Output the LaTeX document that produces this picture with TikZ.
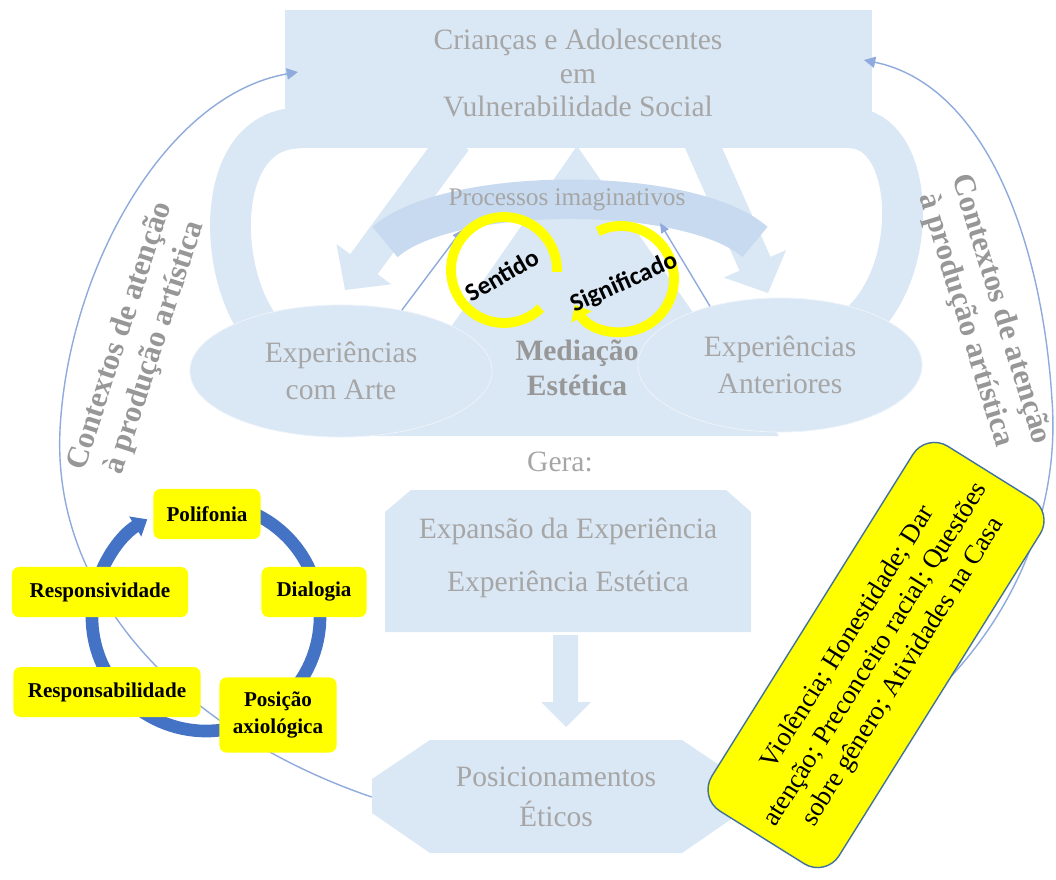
\documentclass[tikz,border=0pt]{standalone}
\usepackage{fontspec}
\setmainfont{Liberation Serif}
\newfontfamily\calibfont{Carlito}
\usetikzlibrary{arrows.meta,shapes.geometric}

\definecolor{boxblue}{HTML}{DAE7F4}
\definecolor{procblue}{HTML}{C8DAEF}
\definecolor{txtgray}{HTML}{A6A6A6}
\definecolor{medgray}{HTML}{979797}
\definecolor{arcblue}{HTML}{8FAADC}
\definecolor{ringblue}{HTML}{4472C4}
\definecolor{hiyellow}{HTML}{FFFF00}
\definecolor{edgeblue}{HTML}{41719C}

\tikzset{
  gray text/.style={text=txtgray, align=center, inner sep=0pt, font=\fontsize{21}{24}\selectfont},
  band/.style={draw=boxblue, line width=29pt},
  procband/.style={draw=procblue, line width=28pt},
  blob/.style={ellipse, fill=boxblue, draw=white!50!boxblue, line width=0.6pt, text=txtgray, align=center, font=\fontsize{21}{26}\selectfont},
  thin arrow/.style={draw=arcblue, line width=1pt, -{Triangle[length=7pt,width=6pt]}},
  loop line/.style={draw=hiyellow, line width=7pt},
  loop text/.style={inner sep=0pt, font=\calibfont\bfseries\fontsize{18}{20}\selectfont},
  ctx text/.style={text=medgray, align=center, inner sep=0pt, font=\bfseries\fontsize{22}{26}\selectfont},
  ctx arc/.style={draw=arcblue, line width=1pt, -{Triangle[length=8pt,width=8pt]}},
  ring/.style={draw=ringblue, line width=9pt, -{Triangle[length=10pt,width=16pt]}},
  cyc box/.style={fill=hiyellow, rounded corners=5pt, minimum height=1.25cm, align=center, inner sep=2pt, font=\bfseries\fontsize{15}{19}\selectfont},
  theme box/.style={fill=hiyellow, draw=edgeblue, line width=1pt, rounded corners=18pt, minimum width=10.75cm, minimum height=3.75cm, align=center, font=\fontsize{19}{23}\selectfont}
}

\begin{document}
\begin{tikzpicture}[x=0.025cm, y=-0.025cm]
  \useasboundingbox (0,0) rectangle (1056,879);

  % Draw the side bands under the top box
  \draw[band] (300,128) .. controls (215,128) and (215,270) .. (262,330);
  \draw[band] (850,128) .. controls (915,128) and (922,270) .. (858,325);

  % Draw the two diagonal block arrows
  \fill[boxblue] (468.7,150.0) -- (377.6,274.2) -- (391.3,284.3) -- (345,290)
    -- (336.5,244.1) -- (350.2,254.2) -- (441.3,130.0) -- cycle;
  \fill[boxblue] (684.5,146.9) -- (739.5,270.7) -- (723.9,277.6) -- (768,293)
    -- (786.1,250.0) -- (770.5,256.9) -- (715.5,133.1) -- cycle;

  % Draw the central triangle
  \fill[boxblue] (577,146) -- (375,436) -- (779,436) -- cycle;

  % Draw the top box
  \node[fill=boxblue, minimum width=14.675cm, minimum height=3.45cm] (top) at (578.5,79) {};
  \node[gray text] (toptxt) at (578,73) {Crianças e Adolescentes\\em\\Vulnerabilidade Social};

  % Draw the ellipses
  \node[blob, minimum width=7.55cm, minimum height=3.3cm] (arte) at (341,371) {Experiências\\com Arte};
  \node[blob, minimum width=7.1cm, minimum height=3.35cm] (anter) at (780,365) {Experiências\\Anteriores};

  % Draw the arc of imaginative processes
  \draw[procband] (385,242) .. controls (450,185) and (690,185) .. (755,242);
  \node[gray text, font=\fontsize{18}{20}\selectfont] (proc) at (567,200) {Processos imaginativos};
  \node[gray text, text=medgray, font=\bfseries\fontsize{21}{25}\selectfont] (medi) at (577,368) {Mediação\\Estética};

  % Draw the thin arrows
  \coordinate (pl) at (462,230);
  \coordinate (pr) at (660,223);
  \draw[thin arrow] (arte.45) -- (pl);
  \draw[thin arrow] (anter.140) -- (pr);

  % Draw the yellow loops
  \coordinate (sc) at (504,270);
  \coordinate (gc) at (621,279);
  \draw[loop line] ([shift={(2:53)}]sc) arc[start angle=2, end angle=-314, radius=53];
  \draw[loop line, -{Triangle[length=10pt,width=16pt]}] ([shift={(-116:53)}]gc) arc[start angle=-116, end angle=151, radius=53];
  \node[loop text, rotate=30] (sent) at (502,275) {Sentido};
  \node[loop text, rotate=24] (signif) at (624,283) {Significado};

  % Draw the lower column
  \node[gray text] (gera) at (560,462) {Gera:};
  \fill[boxblue] (385,512) -- (411,490) -- (726,490) -- (751,512) -- (751,632) -- (385,632) -- cycle;
  \node[gray text, minimum width=9.15cm, minimum height=3.55cm] (expans) at (568,558) {Expansão da Experiência\\[14pt]Experiência Estética};
  \fill[boxblue] (553,635) -- (553,702) -- (541,702) -- (566,727) -- (591,702) -- (578,702) -- (578,635) -- cycle;
  \fill[boxblue] (372,779) -- (430,740) -- (682,740) -- (740,779) -- (740,813) -- (682,853) -- (430,853) -- (372,813) -- cycle;
  \node[gray text, minimum width=9.2cm, minimum height=2.825cm] (posic) at (556,797) {Posicionamentos\\[4pt]Éticos};

  % Draw the side texts
  \node[ctx text, rotate=72] (ctxl) at (138,342) {Contextos de atenção\\à produção artística};
  \node[ctx text, rotate=-73] (ctxr) at (983,315) {Contextos de atenção\\à produção artística};

  % Draw the big arcs
  \coordinate (tl) at (298,72);
  \coordinate (tr) at (864,60);
  \draw[ctx arc] (posic.west) .. controls (190,735) and (52,600) .. (60,430)
    .. controls (68,270) and (165,95) .. (tl);
  \draw[ctx arc] (posic.east) .. controls (920,760) and (1066,590) .. (1052,400)
    .. controls (1042,240) and (985,85) .. (tr);

  % Draw the cycle
  \coordinate (cyc) at (206,617);
  \draw[ring] ([shift={(-75:114)}]cyc) arc[start angle=-75, end angle=239, radius=114];
  \node[cyc box, minimum width=2.675cm] (polif) at (207,514) {Polifonia};
  \node[cyc box, minimum width=2.625cm] (dialog) at (314,592) {Dialogia};
  \node[cyc box, minimum width=2.925cm, minimum height=1.875cm] (posax) at (278,715) {Posição\\axiológica};
  \node[cyc box, minimum width=4.675cm] (respab) at (107,692) {Responsabilidade};
  \node[cyc box, minimum width=4.4cm] (respiv) at (100,592) {Responsividade};

  % Draw the themes box
  \node[theme box, rotate=58] (themes) at (876,655) {Violência; Honestidade; Dar\\atenção; Preconceito racial; Questões\\sobre gênero; Atividades na Casa};
\end{tikzpicture}
\end{document}
